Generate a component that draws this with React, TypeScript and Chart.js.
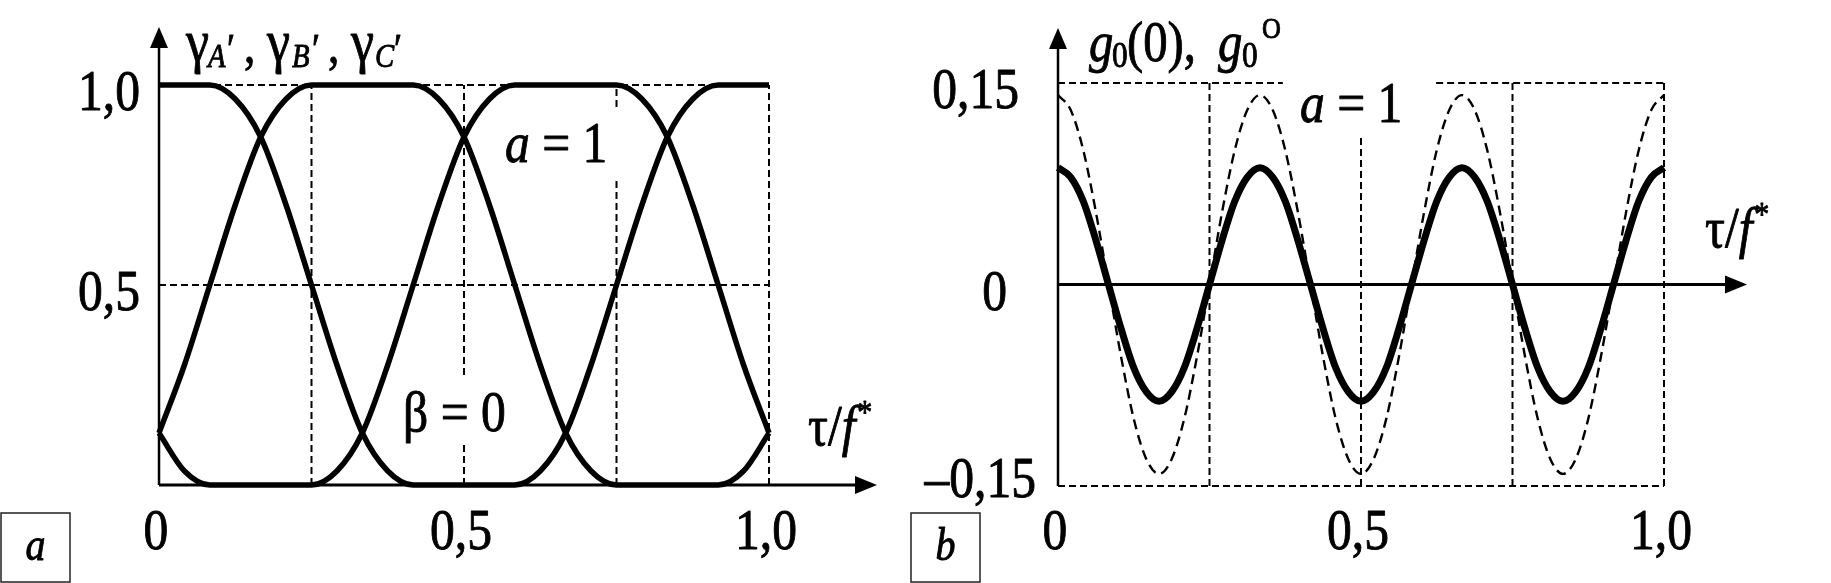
import React, { useEffect, useRef } from "react";
import { Chart, registerables } from "chart.js";
Chart.register(...registerables);

// ---------- data (panel a) ----------
const tau24 = [0, 0.0417, 0.0833, 0.125, 0.1667, 0.2083, 0.25, 0.2917, 0.3333, 0.375, 0.4167, 0.4583, 0.5, 0.5417, 0.5833, 0.625, 0.6667, 0.7083, 0.75, 0.7917, 0.8333, 0.875, 0.9167, 0.9583, 1];
const gammaA = [1, 1, 1, 0.965, 0.87, 0.7, 0.5, 0.3, 0.13, 0.035, 0, 0, 0, 0, 0, 0.035, 0.13, 0.3, 0.5, 0.7, 0.87, 0.965, 1, 1, 1];
const gammaB = [0.13, 0.3, 0.5, 0.7, 0.87, 0.965, 1, 1, 1, 1, 1, 0.965, 0.87, 0.7, 0.5, 0.3, 0.13, 0.035, 0, 0, 0, 0, 0, 0.035, 0.13];
const gammaC = [0.13, 0.035, 0, 0, 0, 0, 0, 0.035, 0.13, 0.3, 0.5, 0.7, 0.87, 0.965, 1, 1, 1, 1, 1, 0.965, 0.87, 0.7, 0.5, 0.3, 0.13];

// ---------- data (panel b) ----------
const tau48 = [0, 0.0208, 0.0417, 0.0625, 0.0833, 0.1042, 0.125, 0.1458, 0.1667, 0.1875, 0.2083, 0.2292, 0.25, 0.2708, 0.2917, 0.3125, 0.3333, 0.3542, 0.375, 0.3958, 0.4167, 0.4375, 0.4583, 0.4792, 0.5, 0.5208, 0.5417, 0.5625, 0.5833, 0.6042, 0.625, 0.6458, 0.6667, 0.6875, 0.7083, 0.7292, 0.75, 0.7708, 0.7917, 0.8125, 0.8333, 0.8542, 0.875, 0.8958, 0.9167, 0.9375, 0.9583, 0.9792, 1];
const g0Zero = [0.087, 0.08, 0.062, 0.033, 0, -0.033, -0.062, -0.08, -0.087, -0.08, -0.062, -0.033, 0, 0.033, 0.062, 0.08,
  0.087, 0.08, 0.062, 0.033, 0, -0.033, -0.062, -0.08, -0.087, -0.08, -0.062, -0.033, 0, 0.033, 0.062, 0.08,
  0.087, 0.08, 0.062, 0.033, 0, -0.033, -0.062, -0.08, -0.087, -0.08, -0.062, -0.033, 0, 0.033, 0.062, 0.08, 0.087];
const g0Opt = [0.141, 0.13, 0.1, 0.054, 0, -0.054, -0.1, -0.13, -0.141, -0.13, -0.1, -0.054, 0, 0.054, 0.1, 0.13,
  0.141, 0.13, 0.1, 0.054, 0, -0.054, -0.1, -0.13, -0.141, -0.13, -0.1, -0.054, 0, 0.054, 0.1, 0.13,
  0.141, 0.13, 0.1, 0.054, 0, -0.054, -0.1, -0.13, -0.141, -0.13, -0.1, -0.054, 0, 0.054, 0.1, 0.13, 0.141];

// ---------- ticks ----------
const xTickValues = [0, 0.5, 1.0];
const xTickLabels = ["0", "0,5", "1,0"];
const leftYTickValues = [1.0, 0.5];
const leftYTickLabels = ["1,0", "0,5"];
const rightYTickValues = [0.15, 0, -0.15];
const rightYTickLabels = ["0,15", "0", "–0,15"];

// ---------- reference lines (value, from, to) ----------
const leftHLines = [[1.0, 0, 1], [0.5, 0, 1]];
const leftVLines = [[0.25, 0, 1], [0.5, 0.275, 1], [0.5, 0, 0.107], [0.75, 0, 0.77], [0.75, 0.945, 1], [1.0, 0, 1]];
const rightHLines = [[0.15, 0, 0.371], [0.15, 0.624, 1], [-0.15, 0, 1]];
const rightVLines = [[0.25, -0.15, 0.15], [0.5, -0.15, 0.11], [0.75, -0.15, 0.15], [1.0, -0.15, 0.15]];

const FONT = '"Liberation Serif", "Times New Roman", serif';
const SX = 0.87;

function txt(ctx: CanvasRenderingContext2D, s: string, x: number, y: number, size: number, italic = false, align: CanvasTextAlign = "left") {
  ctx.save();
  ctx.font = `${italic ? "italic " : ""}${size}px ${FONT}`;
  ctx.textAlign = align;
  ctx.textBaseline = "alphabetic";
  ctx.fillStyle = "#000";
  ctx.strokeStyle = "#000";
  ctx.lineWidth = 0.9;
  ctx.lineJoin = "round";
  ctx.translate(x, y);
  ctx.scale(SX, 1);
  ctx.fillText(s, 0, 0);
  ctx.strokeText(s, 0, 0);
  ctx.restore();
}

type Run = { t: string; size: number; italic?: boolean; dy?: number; dx?: number };
function runs(ctx: CanvasRenderingContext2D, list: Run[], x: number, y: number) {
  let cx = x;
  for (const r of list) {
    cx += r.dx || 0;
    ctx.save();
    ctx.font = `${r.italic ? "italic " : ""}${r.size}px ${FONT}`;
    const w = ctx.measureText(r.t).width * SX;
    ctx.restore();
    txt(ctx, r.t, cx, y + (r.dy || 0), r.size, !!r.italic);
    cx += w;
  }
}

function line(ctx: CanvasRenderingContext2D, x0: number, y0: number, x1: number, y1: number, w: number, dash: number[] = []) {
  ctx.save();
  ctx.strokeStyle = "#000";
  ctx.lineWidth = w;
  ctx.setLineDash(dash);
  ctx.beginPath();
  ctx.moveTo(x0, y0);
  ctx.lineTo(x1, y1);
  ctx.stroke();
  ctx.restore();
}

function tri(ctx: CanvasRenderingContext2D, pts: number[][]) {
  ctx.save();
  ctx.fillStyle = "#000";
  ctx.beginPath();
  ctx.moveTo(pts[0][0], pts[0][1]);
  pts.slice(1).forEach((p) => ctx.lineTo(p[0], p[1]));
  ctx.closePath();
  ctx.fill();
  ctx.restore();
}

function box(ctx: CanvasRenderingContext2D, x: number, y: number, w: number, h: number, letter: string) {
  ctx.save();
  ctx.strokeStyle = "#222";
  ctx.lineWidth = 1.5;
  ctx.strokeRect(x, y, w, h);
  ctx.restore();
  txt(ctx, letter, x + w / 2, y + 47, 46, true, "center");
}

const GRID_DASH = [7, 4];

const leftPlugin = {
  id: "leftDecor",
  beforeDatasetsDraw(chart: any) {
    const { ctx, scales } = chart;
    const xs = scales.x, ys = scales.y;
    leftHLines.forEach(([v, a, b]) => line(ctx, xs.getPixelForValue(a), ys.getPixelForValue(v), xs.getPixelForValue(b), ys.getPixelForValue(v), 2, GRID_DASH));
    leftVLines.forEach(([v, a, b]) => line(ctx, xs.getPixelForValue(v), ys.getPixelForValue(a), xs.getPixelForValue(v), ys.getPixelForValue(b), 2, GRID_DASH));
  },
  afterDatasetsDraw(chart: any) {
    const { ctx, scales, chartArea } = chart;
    const xs = scales.x, ys = scales.y;
    const x0 = xs.getPixelForValue(0), y0 = ys.getPixelForValue(0);
    const yTip = chartArea.top - 58, xTip = chartArea.right + 108;
    line(ctx, x0, y0, x0, yTip + 15, 2.5);
    tri(ctx, [[x0, yTip], [x0 - 9, yTip + 21], [x0 + 9, yTip + 21]]);
    line(ctx, x0, y0, xTip - 15, y0, 3);
    tri(ctx, [[xTip, y0], [xTip - 22, y0 - 9], [xTip - 22, y0 + 9]]);

    leftYTickValues.forEach((v, i) => txt(ctx, leftYTickLabels[i], x0 - 19, ys.getPixelForValue(v) + 25, 57, false, "right"));
    xTickValues.forEach((v, i) => txt(ctx, xTickLabels[i], xs.getPixelForValue(v) - 3, 549, 57, false, "center"));

    // axis title: γA′, γB′, γC′
    const gl = [[186, 208, 227, 244], [267, 292, 312, 328], [351, 375, 394, -1]];
    const subs = ["A", "B", "C"];
    gl.forEach((p, i) => {
      txt(ctx, "γ", p[0], 61, 60);
      txt(ctx, subs[i], p[1], 67, 33, true);
      txt(ctx, "′", p[2], 63, 42);
      if (p[3] > 0) txt(ctx, ",", p[3], 62, 52);
    });

    runs(ctx, [{ t: "a", size: 57, italic: true }, { t: " = 1", size: 57 }], 505, 162);
    runs(ctx, [{ t: "β = 0", size: 57 }], 403, 431);
    runs(ctx, [{ t: "τ/", size: 57 }, { t: "f", size: 57, italic: true }, { t: "*", size: 34, dy: -22, dx: 2 }], 808, 445);

    box(ctx, 1, 513, 69, 69, "a");
  },
};

const rightPlugin = {
  id: "rightDecor",
  beforeDatasetsDraw(chart: any) {
    const { ctx, scales } = chart;
    const xs = scales.x, ys = scales.y;
    rightHLines.forEach(([v, a, b]) => line(ctx, xs.getPixelForValue(a), ys.getPixelForValue(v), xs.getPixelForValue(b), ys.getPixelForValue(v), 2, GRID_DASH));
    rightVLines.forEach(([v, a, b]) => line(ctx, xs.getPixelForValue(v), ys.getPixelForValue(a), xs.getPixelForValue(v), ys.getPixelForValue(b), 2, GRID_DASH));
    const x0 = xs.getPixelForValue(0), yz = ys.getPixelForValue(0);
    const xTip = chart.chartArea.right + 83;
    line(ctx, x0, yz, xTip - 15, yz, 3);
    tri(ctx, [[xTip, yz], [xTip - 22, yz - 9], [xTip - 22, yz + 9]]);
  },
  afterDatasetsDraw(chart: any) {
    const { ctx, scales, chartArea } = chart;
    const xs = scales.x, ys = scales.y;
    const x0 = xs.getPixelForValue(0), yb = ys.getPixelForValue(-0.15);
    const yTip = chartArea.top - 55;
    line(ctx, x0, yb, x0, yTip + 15, 2.5);
    tri(ctx, [[x0, yTip], [x0 - 9, yTip + 21], [x0 + 9, yTip + 21]]);

    const rightEdges = [114, 102, 131];
    const offs = [25, 25, 11];
    rightYTickValues.forEach((v, i) => txt(ctx, rightYTickLabels[i], rightEdges[i], ys.getPixelForValue(v) + offs[i], 57, false, "right"));
    xTickValues.forEach((v, i) => txt(ctx, xTickLabels[i], xs.getPixelForValue(v) - 3, 549, 57, false, "center"));

    // axis title: g0(0), g0^O
    txt(ctx, "g", 184, 61, 56, true);
    txt(ctx, "0", 207, 67, 36);
    txt(ctx, "(0),", 222, 61, 56);
    txt(ctx, "g", 313, 61, 56, true);
    txt(ctx, "0", 337, 67, 36);
    txt(ctx, "O", 357, 38, 30);

    runs(ctx, [{ t: "a", size: 57, italic: true }, { t: " = 1", size: 57 }], 395, 122);
    runs(ctx, [{ t: "τ/", size: 57 }, { t: "f", size: 57, italic: true }, { t: "*", size: 34, dy: -22, dx: 2 }], 800, 247);

    box(ctx, 6, 513, 69, 69, "b");
  },
};

const LEFT_W = 905;
const RIGHT_W = 926;
const H = 583;

function baseOptions(pad: any, ymin: number, ymax: number) {
  return {
    animation: false,
    responsive: false,
    events: [],
    layout: { padding: pad },
    plugins: { legend: { display: false }, tooltip: { enabled: false } },
    scales: {
      x: { type: "linear", min: 0, max: 1, display: false },
      y: { type: "linear", min: ymin, max: ymax, display: false },
    },
  } as any;
}

export default function App() {
  const leftRef = useRef<HTMLCanvasElement>(null);
  const rightRef = useRef<HTMLCanvasElement>(null);

  useEffect(() => {
    const mk = (ys: number[], xs: number[]) => xs.map((x, i) => ({ x, y: ys[i] }));
    const curve = { borderColor: "#000", pointRadius: 0, fill: false, clip: false, cubicInterpolationMode: "monotone" };
    const left = new Chart(leftRef.current!, {
      type: "line",
      data: {
        datasets: [
          { ...curve, data: mk(gammaA, tau24), borderWidth: 5.5 },
          { ...curve, data: mk(gammaB, tau24), borderWidth: 5.5 },
          { ...curve, data: mk(gammaC, tau24), borderWidth: 5.5 },
        ],
      } as any,
      options: baseOptions({ left: 159, right: LEFT_W - 769, top: 85, bottom: H - 485 }, 0, 1),
      plugins: [leftPlugin],
    });
    const right = new Chart(rightRef.current!, {
      type: "line",
      data: {
        datasets: [
          { ...curve, data: mk(g0Zero, tau48), borderWidth: 7 },
          { ...curve, data: mk(g0Opt, tau48), borderWidth: 2.4, borderDash: [10, 6] },
        ],
      } as any,
      options: baseOptions({ left: 1058 - LEFT_W, right: RIGHT_W - (1664 - LEFT_W), top: 83, bottom: H - 486 }, -0.15, 0.15),
      plugins: [rightPlugin],
    });
    return () => {
      left.destroy();
      right.destroy();
    };
  }, []);

  return (
    <div style={{ position: "fixed", left: 0, top: 0, width: 1831, height: H, background: "#fff", display: "flex" }}>
      <canvas ref={leftRef} width={LEFT_W} height={H} style={{ width: LEFT_W, height: H, display: "block" }} />
      <canvas ref={rightRef} width={RIGHT_W} height={H} style={{ width: RIGHT_W, height: H, display: "block" }} />
    </div>
  );
}
